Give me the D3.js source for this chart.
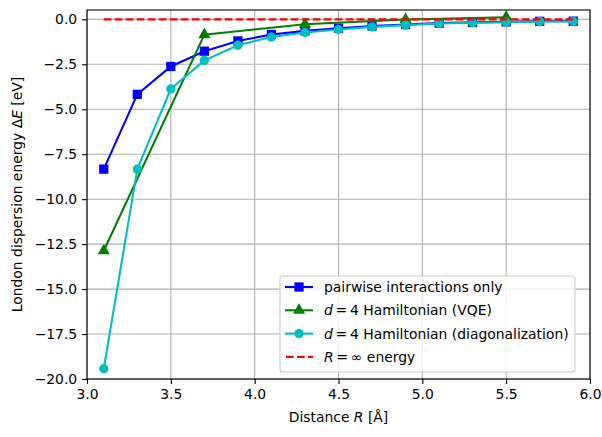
<!DOCTYPE html>
<html>
<head>
<meta charset="utf-8">
<script src="https://cdn.jsdelivr.net/npm/d3@7"></script>
<style>
  body { margin: 0; background: #fff; }
  svg text { font-family: "DejaVu Sans", sans-serif; fill: #000; }
</style>
</head>
<body>
<div id="chart"></div>
<script>
// distances in Angstrom
var distances = [3.1, 3.3, 3.5, 3.7, 3.9, 4.1, 4.3, 4.5, 4.7, 4.9, 5.1, 5.3, 5.5, 5.7, 5.9];
var vqeDistances = [3.1, 3.7, 4.3, 4.9, 5.5];

// energies in eV
var pairwise = [-8.33, -4.17, -2.62, -1.77, -1.2, -0.84, -0.64, -0.49, -0.37, -0.29, -0.21, -0.17, -0.14, -0.11, -0.1];
var vqe = [-12.87, -0.85, -0.27, -0.01, 0.12];
var diagonal = [-19.43, -8.33, -3.87, -2.28, -1.44, -0.98, -0.73, -0.56, -0.42, -0.32, -0.23, -0.19, -0.16, -0.12, -0.11];

var xTicks = [3.0, 3.5, 4.0, 4.5, 5.0, 5.5, 6.0];
var yTicks = [0, -2.5, -5, -7.5, -10, -12.5, -15, -17.5, -20];

var width = 602, height = 437;
var margin = {left: 87, right: 12, top: 10, bottom: 58};

var svg = d3.select("#chart").append("svg")
    .attr("width", width)
    .attr("height", height);

var x = d3.scaleLinear().domain([3.0, 6.0]).range([margin.left, width - margin.right]);
var y = d3.scaleLinear().domain([-20, 0.52]).range([height - margin.bottom, margin.top]);

var fmt = function(d) { return d3.format(".1f")(d).replace("-", "\u2212"); };

// marker sizes (symbol area)
function symSize(m) {
  return m === d3.symbolSquare ? 86 : m === d3.symbolCircle ? 68 : 64;
}

// grid
svg.append("g").selectAll("line").data(xTicks).enter().append("line")
    .attr("x1", function(d) { return x(d); }).attr("x2", function(d) { return x(d); })
    .attr("y1", y.range()[0]).attr("y2", y.range()[1])
    .attr("stroke", "#b0b0b0").attr("stroke-width", 1.1);
svg.append("g").selectAll("line").data(yTicks).enter().append("line")
    .attr("y1", function(d) { return y(d); }).attr("y2", function(d) { return y(d); })
    .attr("x1", x.range()[0]).attr("x2", x.range()[1])
    .attr("stroke", "#b0b0b0").attr("stroke-width", 1.1);

// axes
var xAxis = svg.append("g")
    .attr("transform", "translate(0," + y.range()[0] + ")")
    .call(d3.axisBottom(x).tickValues(xTicks).tickFormat(fmt).tickSize(4.9).tickPadding(4.9));
var yAxis = svg.append("g")
    .attr("transform", "translate(" + x.range()[0] + ",0)")
    .call(d3.axisLeft(y).tickValues(yTicks).tickFormat(fmt).tickSize(4.9).tickPadding(4.9));
[xAxis, yAxis].forEach(function(a) {
  a.select(".domain").remove();
  a.selectAll("line").attr("stroke", "#000").attr("stroke-width", 1.1);
  a.selectAll("text").style("font-size", "13.9px").style("font-family", "DejaVu Sans");
});

svg.append("clipPath").attr("id", "clip").append("rect")
    .attr("x", x.range()[0]).attr("y", y.range()[1])
    .attr("width", x.range()[1] - x.range()[0]).attr("height", y.range()[0] - y.range()[1]);

var plot = svg.append("g").attr("clip-path", "url(#clip)");

var line = d3.line().x(function(d) { return x(d[0]); }).y(function(d) { return y(d[1]); });

function series(xs, ys, color, marker) {
  var pts = xs.map(function(d, i) { return [d, ys[i]]; });
  plot.append("path").datum(pts).attr("d", line)
      .attr("fill", "none").attr("stroke", color).attr("stroke-width", 2.08);
  plot.append("g").selectAll("path").data(pts).enter().append("path")
      .attr("d", d3.symbol().type(marker).size(symSize(marker)))
      .attr("transform", function(d) { return "translate(" + x(d[0]) + "," + y(d[1]) + ")"; })
      .attr("fill", color);
}

series(distances, pairwise, "#0000ff", d3.symbolSquare);
series(vqeDistances, vqe, "#008000", d3.symbolTriangle);
series(distances, diagonal, "#00bfbf", d3.symbolCircle);

plot.append("line")
    .attr("x1", x(distances[0])).attr("x2", x(distances[distances.length - 1]))
    .attr("y1", y(0)).attr("y2", y(0))
    .attr("stroke", "#ff0000").attr("stroke-width", 2.08)
    .attr("stroke-dasharray", "7.7,3.3");

// frame
svg.append("rect")
    .attr("x", x.range()[0]).attr("y", y.range()[1])
    .attr("width", x.range()[1] - x.range()[0]).attr("height", y.range()[0] - y.range()[1])
    .attr("fill", "none").attr("stroke", "#000").attr("stroke-width", 1.1);

// axis labels
var xl = svg.append("text")
    .attr("x", (x.range()[0] + x.range()[1]) / 2).attr("y", 422)
    .attr("text-anchor", "middle").style("font-size", "13.9px");
xl.append("tspan").text("Distance ");
xl.append("tspan").style("font-style", "italic").text("R");
xl.append("tspan").text(" [Å]");

var yl = svg.append("text")
    .attr("transform", "translate(22," + (y.range()[0] + y.range()[1]) / 2 + ") rotate(-90)")
    .attr("text-anchor", "middle").style("font-size", "13.9px");
yl.append("tspan").text("London dispersion energy Δ");
yl.append("tspan").style("font-style", "italic").text("E");
yl.append("tspan").text(" [eV]");

// legend
var legendLabels = [
  [{t: "pairwise interactions only"}],
  [{t: "d", i: true}, {t: "\u2009=\u20094 Hamiltonian (VQE)"}],
  [{t: "d", i: true}, {t: "\u2009=\u20094 Hamiltonian (diagonalization)"}],
  [{t: "R", i: true}, {t: "\u2009=\u2009∞ energy"}]
];
var legendColors = ["#0000ff", "#008000", "#00bfbf", "#ff0000"];
var legendMarkers = [d3.symbolSquare, d3.symbolTriangle, d3.symbolCircle, null];

var lg = svg.append("g");
lg.append("rect")
    .attr("x", 280).attr("y", 276).attr("width", 295).attr("height", 96)
    .attr("rx", 3)
    .attr("fill", "rgba(255,255,255,0.8)").attr("stroke", "#cccccc").attr("stroke-width", 1.1);

legendLabels.forEach(function(lab, i) {
  var cy = 287 + i * 23.3;
  var l = lg.append("line")
      .attr("x1", 285).attr("x2", 313).attr("y1", cy).attr("y2", cy)
      .attr("stroke", legendColors[i]).attr("stroke-width", 2.08);
  if (legendMarkers[i]) {
    lg.append("path")
        .attr("d", d3.symbol().type(legendMarkers[i]).size(symSize(legendMarkers[i])))
        .attr("transform", "translate(299," + cy + ")")
        .attr("fill", legendColors[i]);
  } else {
    l.attr("x1", 286).attr("x2", 313).attr("stroke-dasharray", "7.7,3.3");
  }
  var t = lg.append("text").attr("x", 324).attr("y", cy + 5).style("font-size", "13.9px");
  lab.forEach(function(p) {
    var s = t.append("tspan").text(p.t);
    if (p.i) s.style("font-style", "italic");
  });
});
</script>
</body>
</html>
